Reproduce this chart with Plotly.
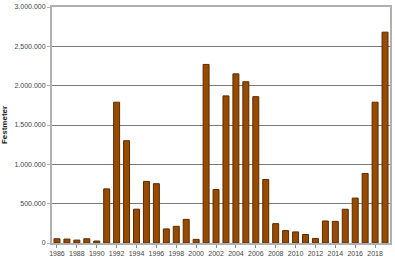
import plotly.graph_objects as go

years = list(range(1986, 2020))
values = [54000, 50000, 37000, 54000, 25000, 688000, 1790000, 1300000, 430000, 783000,
          754000, 179000, 212000, 300000, 46000, 2270000, 679000, 1870000, 2150000, 2050000,
          1860000, 808000, 246000, 158000, 141000, 108000, 58000, 280000, 275000, 429000,
          571000, 884000, 1790000, 2680000]
y_ticks = [0, 500000, 1000000, 1500000, 2000000, 2500000, 3000000]
x_ticks = list(range(1986, 2019, 2))

fig = go.Figure(go.Bar(
    x=years, y=values,
    marker=dict(color="#964B00", line=dict(color="#5a2a00", width=1)),
))

fig.update_layout(
    width=395, height=264,
    margin=dict(l=52, r=5, t=3, b=21),
    paper_bgcolor="white", plot_bgcolor="white",
    separators=",.",
    bargap=0.4,
    showlegend=False,
    font=dict(family="Liberation Sans, Arial, sans-serif", size=7, color="#444444"),
)
fig.update_xaxes(
    range=[1985.5, 2019.5], tickvals=x_ticks, ticktext=[str(t) for t in x_ticks],
    showgrid=False, showline=True, linecolor="#b0b0b0", linewidth=2,
    ticks="outside", ticklen=3, tickcolor="#888888", tickfont=dict(size=7, color="#444444"),
    mirror=False,
)
fig.update_yaxes(
    range=[0, 3000000], tickvals=y_ticks, tickformat=",d",
    showgrid=True, gridcolor="#7a7a7a", gridwidth=1,
    showline=True, linecolor="#b0b0b0", linewidth=2, mirror=True,
    ticks="outside", ticklen=3, tickcolor="#b0b0b0",
    tickfont=dict(size=7, color="#444444"),
    title=dict(text="<b>Festmeter</b>", font=dict(size=8, color="#222222"), standoff=6),
    zeroline=False,
)
fig.update_xaxes(mirror=True)

fig.write_html("out.html")
